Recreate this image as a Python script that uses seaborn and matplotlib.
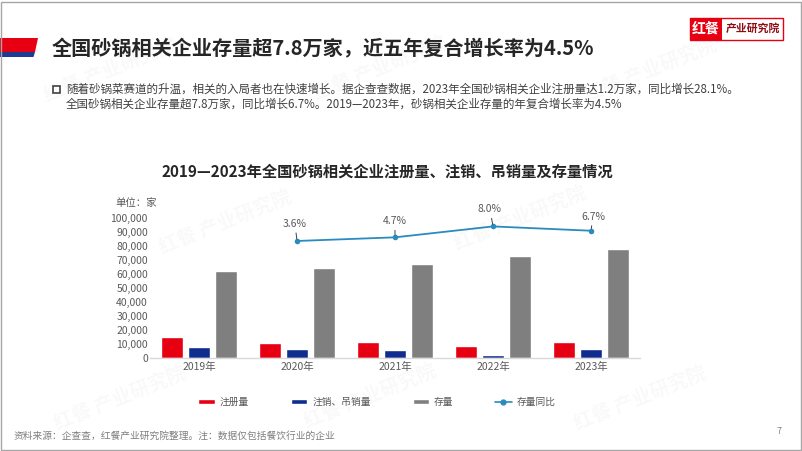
import matplotlib
matplotlib.use('Agg')
import matplotlib.pyplot as plt
import seaborn as sns
import pandas as pd
from matplotlib.patches import Polygon, Rectangle, Patch
from matplotlib.lines import Line2D

# ---------------- data ----------------
years = ['2019年', '2020年', '2021年', '2022年', '2023年']
registered = [15000, 10700, 11400, 8800, 11600]
cancelled = [8000, 6700, 6000, 2400, 6200]
stock = [62100, 64300, 67400, 72900, 77900]
growth_years = ['2020年', '2021年', '2022年', '2023年']
growth = [3.6, 4.7, 8.0, 6.7]
series = ['注册量', '注销、吊销量', '存量']
line_name = '存量同比'
yticks = list(range(0, 100001, 10000))

title = '全国砂锅相关企业存量超7.8万家，近五年复合增长率为4.5%'
bullet1 = '随着砂锅菜赛道的升温，相关的入局者也在快速增长。据企查查数据，2023年全国砂锅相关企业注册量达1.2万家，同比增长28.1%。'
bullet2 = '全国砂锅相关企业存量超7.8万家，同比增长6.7%。2019—2023年，砂锅相关企业存量的年复合增长率为4.5%'
chart_title = '2019—2023年全国砂锅相关企业注册量、注销、吊销量及存量情况'
unit_label = '单位：家'
source = '资料来源：企查查，红餐产业研究院整理。注：数据仅包括餐饮行业的企业'

RED = '#E60012'
BLUE = '#0E2D8E'
GREY = '#7F7F7F'
LINE = '#2A8BBF'
TXT = '#595959'

sns.set_theme(style='white')
plt.rcParams['font.family'] = ['Noto Sans CJK SC', 'DejaVu Sans']

W, H = 802, 451
fig = plt.figure(figsize=(8.02, 4.51), dpi=100)
fig.patch.set_facecolor('white')


def fx(x):
    return x / W


def fy(y):
    return 1 - y / H


# ---------------- watermarks ----------------
for (wx, wy) in [(110, 70), (380, 68), (650, 70), (225, 222), (520, 218),
                 (120, 398), (370, 396), (640, 398)]:
    fig.text(fx(wx), fy(wy), '红餐 产业研究院', fontsize=14, rotation=22,
             color='black', alpha=0.028, ha='center', va='center',
             fontweight='bold', zorder=0)

# ---------------- main axes ----------------
ax = fig.add_axes([fx(150), fy(358), fx(640) - fx(150), fy(218) - fy(358)])
ax.set_facecolor('none')
df = pd.DataFrame({
    'year': years * 3,
    'series': [s for s in series for _ in years],
    'value': registered + cancelled + stock,
})
sns.barplot(data=df, x='year', y='value', hue='series', hue_order=series,
            order=years, palette=[RED, BLUE, GREY], width=0.83, gap=0.2,
            saturation=1, ax=ax, legend=False, errorbar=None)
ax.set_ylim(0, 100000)
ax.set_xlim(-0.5, 4.5)
ax.set_yticks(yticks)
ax.set_yticklabels([f'{v:,}' for v in yticks])
ax.set_xlabel('')
ax.set_ylabel('')
for s in ['top', 'right', 'left']:
    ax.spines[s].set_visible(False)
ax.spines['bottom'].set_color('#D9D9D9')
ax.spines['bottom'].set_linewidth(1)
ax.tick_params(axis='y', length=0, pad=1.5, labelsize=7.5, labelcolor=TXT)
ax.tick_params(axis='x', length=0, pad=3, labelsize=7.5, labelcolor=TXT)
ax.grid(False)

# ---------------- line on secondary axis ----------------
ax2 = ax.twinx()
gx = [years.index(y) for y in growth_years]
sns.lineplot(x=gx, y=growth, ax=ax2, color=LINE, linewidth=1.3,
             marker='o', markersize=4, markeredgewidth=0, legend=False)
ax2.set_ylim(-31.8, 10.55)
ax2.set_xlim(-0.5, 4.5)
ax2.axis('off')
offsets = [(-2, 17), (0, 16), (-3, 17), (2, 14)]
for x, v, off in zip(gx, growth, offsets):
    ax2.annotate(f'{v:.1f}%', xy=(x, v), xytext=off, textcoords='offset pixels',
                 ha='center', va='center', fontsize=7.5, color=TXT,
                 arrowprops=dict(arrowstyle='-', color='#404040', lw=0.7,
                                 shrinkA=0.5, shrinkB=1.5))

# ---------------- legend ----------------
handles = [Patch(facecolor=RED), Patch(facecolor=BLUE), Patch(facecolor=GREY),
           Line2D([0], [0], color=LINE, lw=1.2, marker='o', markersize=3.5)]
leg = fig.legend(handles, series + [line_name], loc='center',
                 bbox_to_anchor=(fx(377), fy(402)), ncol=4, frameon=False,
                 fontsize=7, handlelength=1.7, handleheight=0.55,
                 handletextpad=0.5, columnspacing=4.3)
for t in leg.get_texts():
    t.set_color(TXT)

# ---------------- header ----------------
fig.patches.append(Polygon([(fx(0), fy(38)), (fx(38), fy(38)), (fx(35), fy(52)), (fx(0), fy(52))],
                           closed=True, transform=fig.transFigure, facecolor=RED, edgecolor='none'))
fig.patches.append(Polygon([(fx(0), fy(52)), (fx(35), fy(52)), (fx(33.5), fy(57)), (fx(0), fy(57))],
                           closed=True, transform=fig.transFigure, facecolor='#1F3C93', edgecolor='none'))
fig.text(fx(52), fy(49), title, fontsize=14.5, fontweight='bold', color='#262626',
         ha='left', va='center')

# logo
fig.patches.append(Rectangle((fx(690), fy(40)), fx(783) - fx(690), fy(18) - fy(40),
                             transform=fig.transFigure, facecolor='white', edgecolor=RED, lw=1))
fig.patches.append(Rectangle((fx(690), fy(40)), fx(722) - fx(690), fy(18) - fy(40),
                             transform=fig.transFigure, facecolor=RED, edgecolor='none'))
fig.text(fx(706), fy(29), '红餐', fontsize=10, fontweight='bold', color='white',
         ha='center', va='center')
fig.text(fx(753), fy(29), '产业研究院', fontsize=7.8, fontweight='bold', color='#8E0B12',
         ha='center', va='center')

# bullet
fig.patches.append(Rectangle((fx(53), fy(93)), fx(60) - fx(53), fy(86) - fy(93),
                             transform=fig.transFigure, facecolor='none', edgecolor='#404040', lw=1.2))
fig.text(fx(66), fy(89), bullet1, fontsize=8.3, color='#404040', ha='left', va='center')
fig.text(fx(66), fy(104), bullet2, fontsize=8.3, color='#404040', ha='left', va='center')

# chart title and unit
fig.text(fx(387), fy(172), chart_title, fontsize=11, fontweight='bold', color='#262626',
         ha='center', va='center')
fig.text(fx(115), fy(203), unit_label, fontsize=7.5, color=TXT, ha='left', va='center')

# footer
fig.text(fx(14), fy(436), source, fontsize=7, color='#7F7F7F', ha='left', va='center')
fig.text(fx(779), fy(432), '7', fontsize=6.5, color='#7F7F7F', ha='center', va='center')

# border
fig.patches.append(Rectangle((fx(1), fy(449.5)), fx(800.5) - fx(1), fy(1.5) - fy(449.5),
                             transform=fig.transFigure, facecolor='none', edgecolor='#A6A6A6', lw=1))

fig.savefig('out.png', dpi=100, facecolor='white')
